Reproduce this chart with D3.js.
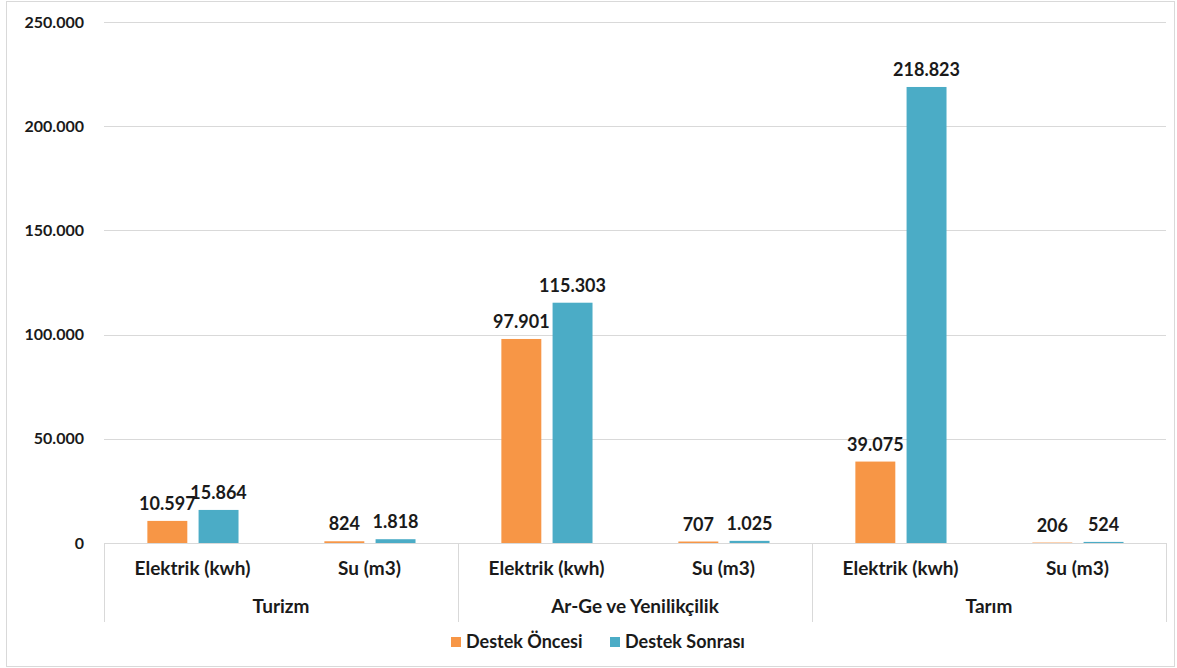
<!DOCTYPE html>
<html>
<head>
<meta charset="utf-8">
<script src="https://cdn.jsdelivr.net/npm/d3@7"></script>
<style>
  body { margin: 0; background: #fff; }
  text { font-family: Lato, "Open Sans", sans-serif; font-weight: 700; fill: #1a1a1a; }
</style>
</head>
<body>
<div id="viz"></div>
<script>
var groups = ["Turizm", "Ar-Ge ve Yenilikçilik", "Tarım"];
var subs = ["Elektrik (kwh)", "Su (m3)"];
var series = ["Destek Öncesi", "Destek Sonrası"];
var before = [10597, 824, 97901, 707, 39075, 206];
var after = [15864, 1818, 115303, 1025, 218823, 524];
var yTicks = [0, 50000, 100000, 150000, 200000, 250000];

var W = 1177, H = 668,
    plotL = 104, plotR = 1166, plotT = 22, plotB = 543,
    colors = ["#F79646", "#4BACC6"];

var fmt = function(v) { return d3.format(",")(v).replace(/,/g, "."); };

var svg = d3.select("#viz").append("svg")
    .attr("width", W).attr("height", H);

// outer frame
svg.append("rect")
    .attr("x", 6.5).attr("y", 1.5)
    .attr("width", W - 9).attr("height", H - 3)
    .attr("fill", "none").attr("stroke", "#d9d9d9");

var rows = [];
groups.forEach(function(g, gi) {
  subs.forEach(function(s, si) {
    var i = gi * subs.length + si;
    rows.push({ key: g + "|" + s, group: g, sub: s, vals: [before[i], after[i]] });
  });
});

var y = d3.scaleLinear().domain([0, 250000]).range([plotB, plotT]);
var xg = d3.scaleBand().domain(groups).range([plotL, plotR]);
var x0 = d3.scaleBand().domain(rows.map(function(d) { return d.key; })).range([plotL, plotR]);
var bw = x0.bandwidth();
var x1 = d3.scaleBand().domain(series).range([bw * 0.245, bw * 0.76]).paddingInner(0.22);

// gridlines
svg.append("g")
    .selectAll("line").data(yTicks.filter(function(t) { return t > 0; }))
    .enter().append("line")
    .attr("x1", plotL).attr("x2", plotR)
    .attr("y1", function(d) { return Math.round(y(d)) + 0.5; })
    .attr("y2", function(d) { return Math.round(y(d)) + 0.5; })
    .attr("stroke", "#d9d9d9");

// y axis labels
var yAxis = d3.axisLeft(y).tickValues(yTicks).tickSize(0).tickPadding(20)
    .tickFormat(function(d) { return fmt(d); });
var ya = svg.append("g").attr("transform", "translate(" + plotL + ",0)").call(yAxis);
ya.select(".domain").remove();
ya.selectAll("text").style("font-size", "16px").attr("font-family", null);

// bars
var rowG = svg.selectAll(".row").data(rows).enter().append("g")
    .attr("class", "row")
    .attr("transform", function(d) { return "translate(" + x0(d.key) + ",0)"; });

rowG.selectAll("rect").data(function(d) { return d.vals; })
    .enter().append("rect")
    .attr("x", function(d, i) { return x1(series[i]); })
    .attr("width", x1.bandwidth())
    .attr("y", function(d) { return y(d); })
    .attr("height", function(d) { return y(0) - y(d); })
    .attr("fill", function(d, i) { return colors[i]; });

rowG.selectAll(".lbl").data(function(d) { return d.vals; })
    .enter().append("text")
    .attr("class", "lbl")
    .attr("x", function(d, i) { return x1(series[i]) + x1.bandwidth() / 2; })
    .attr("y", function(d) { return y(d) - 11; })
    .attr("text-anchor", "middle")
    .style("font-size", "18px")
    .text(function(d) { return fmt(d); });

// category axis
svg.append("line")
    .attr("x1", plotL).attr("x2", plotR)
    .attr("y1", plotB + 0.5).attr("y2", plotB + 0.5)
    .attr("stroke", "#d9d9d9");

var seps = groups.map(function(g) { return xg(g); }).concat([plotR]);
svg.selectAll(".sep").data(seps).enter().append("line")
    .attr("class", "sep")
    .attr("x1", function(d) { return Math.round(d) + 0.5; })
    .attr("x2", function(d) { return Math.round(d) + 0.5; })
    .attr("y1", plotB).attr("y2", 622)
    .attr("stroke", "#d9d9d9");

svg.selectAll(".sub").data(rows).enter().append("text")
    .attr("class", "sub")
    .attr("x", function(d) { return x0(d.key) + bw / 2; })
    .attr("y", 575)
    .attr("text-anchor", "middle")
    .style("font-size", "19px")
    .text(function(d) { return d.sub; });

svg.selectAll(".grp").data(groups).enter().append("text")
    .attr("class", "grp")
    .attr("x", function(d) { return xg(d) + xg.bandwidth() / 2; })
    .attr("y", 613)
    .attr("text-anchor", "middle")
    .style("font-size", "19px")
    .text(function(d) { return d; });

// legend
var legX = [451, 610];
var leg = svg.selectAll(".leg").data(series).enter().append("g")
    .attr("class", "leg")
    .attr("transform", function(d, i) { return "translate(" + legX[i] + ",637)"; });
leg.append("rect").attr("width", 10).attr("height", 10)
    .attr("fill", function(d, i) { return colors[i]; });
leg.append("text").attr("x", 15).attr("y", 11)
    .style("font-size", "18px")
    .text(function(d) { return d; });
</script>
</body>
</html>
